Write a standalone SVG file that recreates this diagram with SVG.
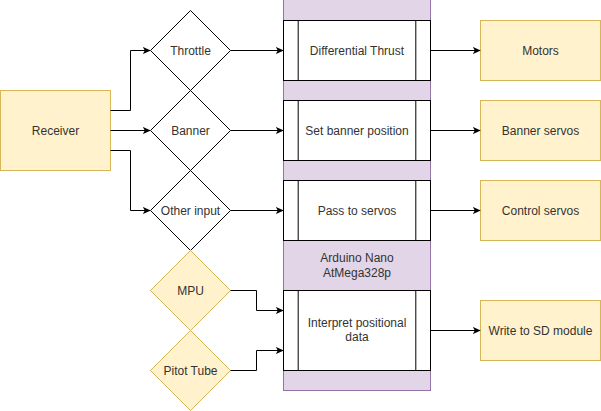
<svg xmlns="http://www.w3.org/2000/svg" width="601" height="411" viewBox="0 0 601 411">
<defs>
<marker id="arr" viewBox="0 0 10 10" refX="9" refY="5" markerWidth="8" markerHeight="8" markerUnits="userSpaceOnUse" orient="auto">
<path d="M0,0.5 L10,5 L0,9.5 L2.5,5 Z" fill="#000"/>
</marker>
<style>
text{font-family:"Liberation Sans",Arial,sans-serif;font-size:12px;fill:#333;text-anchor:middle;dominant-baseline:central}
.y{fill:#fff2cc;stroke:#d6b656;stroke-width:1}
.d{fill:#fff;stroke:#000;stroke-width:1}
.p{fill:#e1d5e7;stroke:#9673a6;stroke-width:1}
.c{fill:none;stroke:#000;stroke-width:1;marker-end:url(#arr)}
</style>
</defs>
<rect width="601" height="411" fill="#fff"/>
<g id="arduino">
<rect class="p" x="283.5" y="-1" width="147" height="391.5"/>
<text x="357" y="258">Arduino Nano</text>
<text x="357" y="273">AtMega328p</text>
</g>
<g id="receiver"><rect class="y" x="0.5" y="90.5" width="110" height="80"/><text x="55.5" y="130.5">Receiver</text></g>
<g id="throttle"><path class="d" d="M190.5,10.5 L230.5,50.5 L190.5,90.5 L150.5,50.5 Z"/><text x="190.5" y="50.5">Throttle</text></g>
<g id="banner"><path class="d" d="M190.5,90.5 L230.5,130.5 L190.5,170.5 L150.5,130.5 Z"/><text x="190.5" y="130.5">Banner</text></g>
<g id="other"><path class="d" d="M190.5,170.5 L230.5,210.5 L190.5,250.5 L150.5,210.5 Z"/><text x="190.5" y="210.5">Other input</text></g>
<g id="mpu"><path class="y" d="M190.5,250.5 L230.5,290.5 L190.5,330.5 L150.5,290.5 Z"/><text x="190.5" y="290.5">MPU</text></g>
<g id="pitot"><path class="y" d="M190.5,330.5 L230.5,370.5 L190.5,410.5 L150.5,370.5 Z"/><text x="190.5" y="370.5">Pitot Tube</text></g>
<g id="diffthrust"><rect class="d" x="283.5" y="20.5" width="147" height="60"/><path d="M298.2,20.5V80.5M415.8,20.5V80.5" stroke="#000"/><text x="357" y="50.5">Differential Thrust</text></g>
<g id="setbanner"><rect class="d" x="283.5" y="100.5" width="147" height="60"/><path d="M298.2,100.5V160.5M415.8,100.5V160.5" stroke="#000"/><text x="357" y="130.5">Set banner position</text></g>
<g id="passservos"><rect class="d" x="283.5" y="180.5" width="147" height="60"/><path d="M298.2,180.5V240.5M415.8,180.5V240.5" stroke="#000"/><text x="357" y="210.5">Pass to servos</text></g>
<g id="interpret"><rect class="d" x="283.5" y="290.5" width="147" height="80"/><path d="M298.2,290.5V370.5M415.8,290.5V370.5" stroke="#000"/><text x="357" y="323">Interpret positional</text><text x="357" y="337">data</text></g>
<g id="motors"><rect class="y" x="480.5" y="20.5" width="120" height="60"/><text x="540.5" y="50.5">Motors</text></g>
<g id="bannerservos"><rect class="y" x="480.5" y="100.5" width="120" height="60"/><text x="540.5" y="130.5">Banner servos</text></g>
<g id="controlservos"><rect class="y" x="480.5" y="180.5" width="120" height="60"/><text x="540.5" y="210.5">Control servos</text></g>
<g id="sd"><rect class="y" x="480.5" y="300.5" width="120" height="60"/><text x="540.5" y="330.5">Write to SD module</text></g>
<g id="connectors">
<path class="c" d="M110.5,110.5 H130.5 V50.5 H150"/>
<path class="c" d="M110.5,130.5 H150"/>
<path class="c" d="M110.5,150.5 H130.5 V210.5 H150"/>
<path class="c" d="M230.5,50.5 H283"/>
<path class="c" d="M230.5,130.5 H283"/>
<path class="c" d="M230.5,210.5 H283"/>
<path class="c" d="M430.5,50.5 H480"/>
<path class="c" d="M430.5,130.5 H480"/>
<path class="c" d="M430.5,210.5 H480"/>
<path class="c" d="M230.5,290.5 H256.5 V310.5 H283"/>
<path class="c" d="M230.5,370.5 H256.5 V350.5 H283"/>
<path class="c" d="M430.5,330.5 H480"/>
</g>
</svg>
